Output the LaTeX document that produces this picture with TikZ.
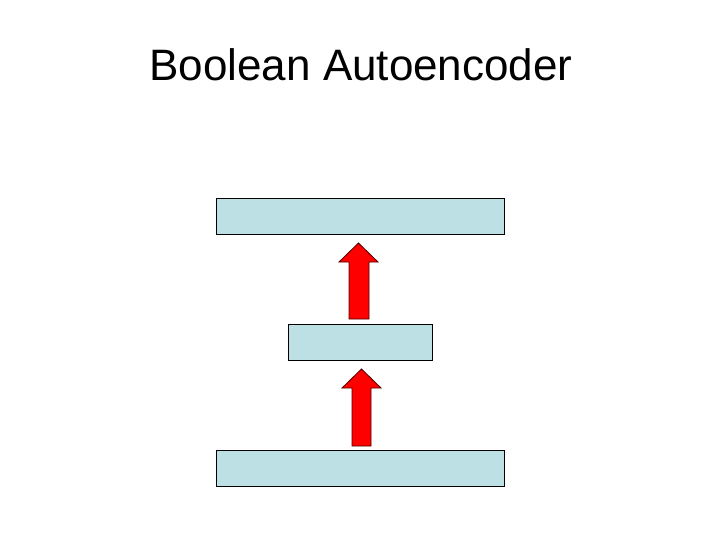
\documentclass[tikz,border=0pt]{standalone}
\usepackage{fontspec}
\setmainfont{Liberation Sans}
\begin{document}
\begin{tikzpicture}[x=1pt,y=-1pt,
  layerbox/.style={draw=black, line width=1pt, fill=boxcyan, inner sep=0pt, minimum height=35.5pt},
  uparrow/.style={draw=black!70!red, line width=0.8pt, fill=red, line join=miter}]
\definecolor{boxcyan}{RGB}{189,224,228}
\useasboundingbox (0,0) rectangle (720,540);
\node[anchor=base, font=\fontsize{44}{50}\selectfont, inner sep=0pt] (title) at (361,81) {Boolean Autoencoder};
\node[layerbox, minimum width=288pt] (top) at (360.5,216.25) {};
\node[layerbox, minimum width=143.5pt] (mid) at (360.25,342.25) {};
\node[layerbox, minimum width=288pt] (bot) at (360.5,468.25) {};
% upper arrow (mid -> top)
\path[uparrow] (349,319) -- (349,262) -- (339,262) -- (358.5,243) -- (378,262) -- (369,262) -- (369,319) -- cycle;
% lower arrow (bot -> mid)
\path[uparrow] (352,446) -- (352,388) -- (342,388) -- (361.5,369) -- (381,388) -- (371,388) -- (371,446) -- cycle;
\end{tikzpicture}
\end{document}
